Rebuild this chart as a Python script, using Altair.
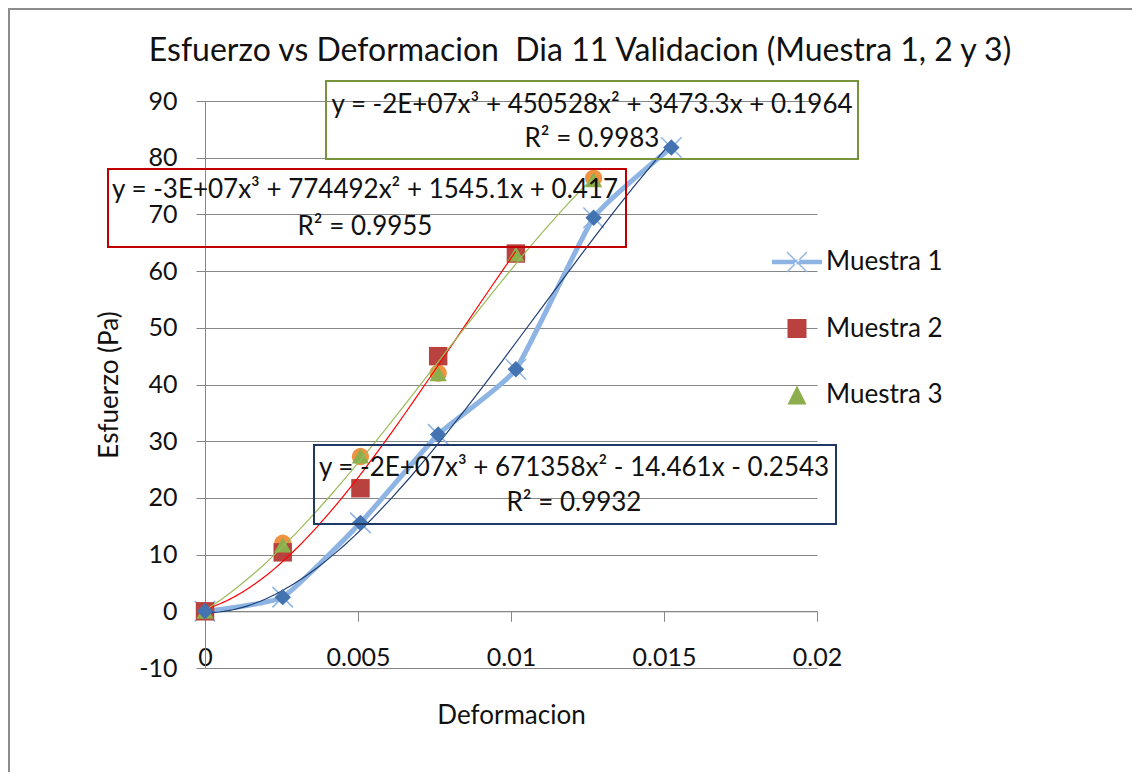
import altair as alt
import pandas as pd

# ---------------- data ----------------
strain = [0, 0.00254, 0.00508, 0.00762, 0.01016, 0.0127, 0.01524]
muestra1 = [0, 2.5, 15.6, 31.2, 42.7, 69.4, 81.8]
muestra2 = [0, 10.4, 21.7, 45.0, 63.1]
muestra3 = [0, 11.7, 27.4, 41.9, 63.0, 76.1]
muestra3_circ = [0, 12.0, 27.3, 42.0, 63.1, 76.4]
series_names = ["Muestra 1", "Muestra 2", "Muestra 3"]

x_ticks = [0, 0.005, 0.01, 0.015, 0.02]
y_ticks = [-10, 0, 10, 20, 30, 40, 50, 60, 70, 80, 90]

title_text = "Esfuerzo vs Deformacion\u00a0 Dia 11 Validacion (Muestra 1, 2 y 3)"
eq_lines = [
    "y = -2E+07x³ + 671358x² - 14.461x - 0.2543",
    "y = -3E+07x³ + 774492x² + 1545.1x + 0.417",
    "y = -2E+07x³ + 450528x² + 3473.3x + 0.1964",
]
r2_lines = ["R² = 0.9932", "R² = 0.9955", "R² = 0.9983"]

# ---------------- tables ----------------
d1 = pd.DataFrame({"x": strain, "y": muestra1, "serie": series_names[0]})
d2 = pd.DataFrame({"x": strain[:len(muestra2)], "y": muestra2, "serie": series_names[1]})
d3 = pd.DataFrame({"x": strain[:len(muestra3)], "y": muestra3, "serie": series_names[2]})
dc = pd.DataFrame({"x": strain[:len(muestra3_circ)], "y": muestra3_circ})
dall = pd.concat([d1, d2, d3], ignore_index=True)

FONT = "Lato"
TXT = "#111111"
GRID = "#868686"

X = alt.X(
    "x:Q",
    scale=alt.Scale(domain=[0, 0.02], nice=False, zero=False),
    axis=alt.Axis(
        values=x_ticks, format="~g", title="Deformacion", grid=False,
        offset=-56.7, tickSize=10, labelPadding=24, titlePadding=32,
        domainColor=GRID, tickColor=GRID, labelFlush=False,
    ),
)
Y = alt.Y(
    "y:Q",
    scale=alt.Scale(domain=[-10, 90], nice=False, zero=False),
    axis=alt.Axis(
        values=y_ticks, title="Esfuerzo (Pa)", grid=True, gridColor=GRID,
        tickSize=9, labelPadding=19, titlePadding=16,
        domainColor=GRID, tickColor=GRID, labelExpr="datum.value + ''",
    ),
)

one = pd.DataFrame({"k": [0]})

frame = alt.Chart(one).mark_rect(fillOpacity=0, stroke="#8c8c8c", strokeWidth=2).encode(
    x=alt.value(-196), x2=alt.value(1400), y=alt.value(-92), y2=alt.value(1000)
)

line1 = alt.Chart(d1).mark_line(
    color="#8EB4E3", strokeWidth=5, interpolate="cardinal", tension=0.55
).encode(x=X, y=Y)
xmark1 = alt.Chart(d1).mark_point(
    shape="M-1,-1L1,1M-1,1L1,-1", filled=False, size=420, color="#8EB4E3", strokeWidth=1.5, opacity=1
).encode(x=X, y=Y)
circ = alt.Chart(dc).mark_point(shape="circle", filled=True, size=300, color="#F0923F", opacity=1).encode(x=X, y=Y)
squares = alt.Chart(d2).mark_point(shape="square", filled=True, size=340, color="#B9423F", opacity=1).encode(x=X, y=Y)
tris = alt.Chart(d3).mark_point(shape="triangle-up", filled=True, size=300, color="#8DAE4C", opacity=1).encode(x=X, y=Y)

trend1 = alt.Chart(d1).transform_regression("x", "y", method="poly", order=3).mark_line(
    color="#1F3F73", strokeWidth=1.2).encode(x=X, y=Y)
trend2 = alt.Chart(d2).transform_regression("x", "y", method="poly", order=3).mark_line(
    color="#FF0000", strokeWidth=1.2).encode(x=X, y=Y)
trend3 = alt.Chart(d3).transform_regression("x", "y", method="poly", order=3).mark_line(
    color="#9BBB59", strokeWidth=1.2).encode(x=X, y=Y)

diam = alt.Chart(d1).mark_point(shape="diamond", filled=True, size=270, color="#4373B0", opacity=1).encode(x=X, y=Y)

legend_shapes = [
    "M-1,-0.09H1V0.09H-1Z M-0.42,-0.38L-0.38,-0.42L0.42,0.38L0.38,0.42Z M0.42,-0.38L0.38,-0.42L-0.42,0.38L-0.38,0.42Z",
    "M-0.38,-0.38H0.38V0.38H-0.38Z",
    "M0,-0.38L0.38,0.38H-0.38Z",
]
legend_colors = ["#8EB4E3", "#B9423F", "#8DAE4C"]
leg = alt.Legend(
    title=None, orient="none", legendX=567, legendY=136, rowPadding=28.5,
    labelOffset=4, symbolSize=2500, labelFont=FONT, labelFontSize=26,
    labelColor=TXT, symbolStrokeWidth=0, symbolOpacity=1,
)
legend_layer = alt.Chart(dall).mark_point(filled=True, size=10, opacity=0).encode(
    x=X, y=Y,
    color=alt.Color("serie:N", scale=alt.Scale(domain=series_names, range=legend_colors), legend=leg),
    shape=alt.Shape("serie:N", scale=alt.Scale(domain=series_names, range=legend_shapes), legend=leg),
)


def box(i, x1, x2, y1, y2, color, cx, yl1, yl2):
    df = pd.DataFrame({"t1": [eq_lines[i]], "t2": [r2_lines[i]]})
    base = alt.Chart(df)
    r = base.mark_rect(fillOpacity=0, stroke=color, strokeWidth=2).encode(
        x=alt.value(x1), x2=alt.value(x2), y=alt.value(y1), y2=alt.value(y2))
    t1 = base.mark_text(font=FONT, fontSize=26, color=TXT, align="center", baseline="middle").encode(
        x=alt.value(cx), y=alt.value(yl1), text="t1:N")
    t2 = base.mark_text(font=FONT, fontSize=26, color=TXT, align="center", baseline="middle").encode(
        x=alt.value(cx), y=alt.value(yl2), text="t2:N")
    return [r, t1, t2]


boxes = []
boxes += box(0, 109, 631, 344, 423, "#1F3864", 369, 367, 402)
boxes += box(1, -97, 421, 68, 146, "#C00000", 160, 89, 126)
boxes += box(2, 121, 653, -20, 58, "#77933C", 387, 4, 38)

title = alt.Chart(pd.DataFrame({"t": [title_text]})).mark_text(
    font=FONT, fontSize=32, color=TXT, align="center", baseline="middle"
).encode(x=alt.value(375), y=alt.value(-50), text="t:N")

chart = alt.layer(
    frame, line1, xmark1, circ, squares, tris, trend1, trend2, trend3, diam,
    legend_layer, *boxes, title
).properties(
    width=612, height=567,
    padding={"left": 197, "top": 93, "right": 315, "bottom": 104},
    autosize=alt.AutoSizeParams(type="none"),
    background="white",
).configure_view(strokeWidth=0).configure_axis(
    labelFont=FONT, labelFontSize=25, labelColor=TXT,
    titleFont=FONT, titleFontSize=26, titleColor=TXT, titleFontWeight="normal",
)

chart.save("out.html", embed_options={"renderer": "svg", "actions": False})
